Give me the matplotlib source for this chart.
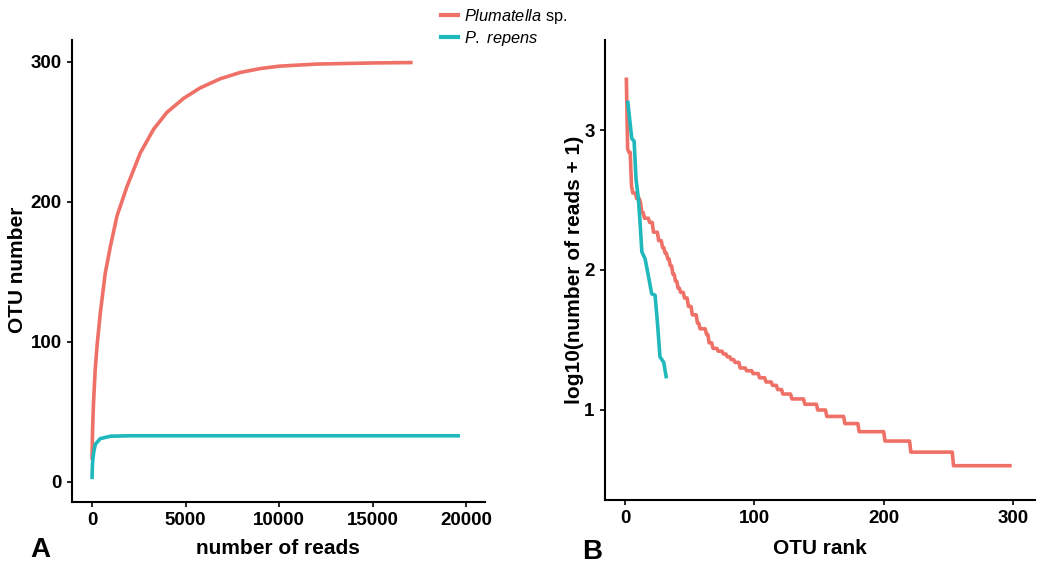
import matplotlib
matplotlib.use("Agg")
import matplotlib.pyplot as plt
from matplotlib.lines import Line2D

plt.rcParams["font.family"] = ["Liberation Sans", "DejaVu Sans"]
plt.rcParams["mathtext.fontset"] = "custom"
plt.rcParams["mathtext.it"] = "Liberation Sans:italic"
plt.rcParams["mathtext.rm"] = "Liberation Sans"

RED = "#EF7066"
TEAL = "#1FB8BC"

# Panel A: rarefaction curves (number of reads vs OTU number)
plum_reads = [0, 20, 50, 89, 170, 267, 445, 712, 979, 1335, 1869, 2581, 3293,
              4005, 4895, 5785, 6853, 7921, 9000, 10000, 12000, 15000, 17140]
plum_otus = [16, 32, 46, 59, 80, 97, 121, 149.5, 168, 190, 211, 235, 252,
             264, 274, 281.5, 288, 292.5, 295.3, 297, 298.5, 299.3, 299.6]
rep_reads = [0, 20, 50, 100, 180, 445, 1000, 2000, 19670]
rep_otus = [2, 11, 17, 22, 27, 31, 32.7, 33, 33]

# Panel B: rank abundance, levels of log10(reads + 1) and the rank each starts at
plum_rank = [1, 2, 3, 5, 6, 9, 12, 13, 15, 19, 22, 26, 29, 31, 33, 35, 37, 39,
             41, 43, 46, 49, 52, 56, 58, 63, 65, 68, 72, 76, 79, 82, 85, 89, 94,
             99, 104, 109, 114, 118, 122, 129, 139, 149, 156, 170, 181, 201, 221,
             254]
plum_log = [3.375, 2.865, 2.84, 2.60, 2.55, 2.51, 2.48, 2.41, 2.37, 2.34, 2.27,
            2.21, 2.16, 2.12, 2.08, 2.03, 1.97, 1.92, 1.87, 1.84, 1.80, 1.74,
            1.68, 1.62, 1.58, 1.54, 1.48, 1.44, 1.42, 1.40, 1.38, 1.36, 1.34,
            1.30, 1.28, 1.26, 1.23, 1.20, 1.176, 1.146, 1.114, 1.079, 1.041, 1.0,
            0.954, 0.903, 0.845, 0.778, 0.699, 0.602]
plum_last_rank = 299
rep_rank = [2, 5.2, 7, 8.5, 10.3, 11.6, 13, 15.5, 18, 20.6, 23.2, 25, 27, 29.9, 32]
rep_log = [3.21, 2.94, 2.92, 2.65, 2.51, 2.34, 2.13, 2.08, 1.96, 1.83, 1.82,
           1.63, 1.38, 1.34, 1.226]

W, H = 1037, 568
fig = plt.figure(figsize=(W / 100, H / 100), dpi=100)


def px_axes(left, right, top, bottom):
    return fig.add_axes([left / W, 1 - bottom / H, (right - left) / W, (bottom - top) / H])


def style(ax):
    for s in ("top", "right"):
        ax.spines[s].set_visible(False)
    for s in ("left", "bottom"):
        ax.spines[s].set_linewidth(1.5)
        ax.spines[s].set_color("black")
    ax.tick_params(direction="out", length=3.5, width=1.2, labelsize=13.5, colors="black", pad=4)
    for lab in ax.get_xticklabels() + ax.get_yticklabels():
        lab.set_fontweight("bold")


def level_line(starts, values, last):
    # each level holds until the rank before the next level, like geom_line over ranks
    xs, ys = [], []
    ends = [s - 1 for s in starts[1:]] + [last]
    for s, e, v in zip(starts, ends, values):
        xs.append(s)
        ys.append(v)
        if e > s:
            xs.append(e)
            ys.append(v)
    return xs, ys


axA = px_axes(72, 485, 40, 502)
axA.plot(plum_reads, plum_otus, color=RED, lw=2.6, solid_capstyle="butt")
axA.plot(rep_reads, rep_otus, color=TEAL, lw=2.6, solid_capstyle="butt")
axA.set_xlim(-1070, 21010)
axA.set_ylim(-14.3, 315.7)
axA.set_xticks([0, 5000, 10000, 15000, 20000])
axA.set_yticks([0, 100, 200, 300])
style(axA)

axB = px_axes(605, 1035, 40, 500)
bx, by = level_line(plum_rank, plum_log, plum_last_rank)
axB.plot(bx, by, color=RED, lw=2.6, solid_capstyle="butt")
axB.plot(rep_rank, rep_log, color=TEAL, lw=2.6, solid_capstyle="butt")
axB.set_xlim(-15.5, 317)
axB.set_ylim(0.357, 3.643)
axB.set_xticks([0, 100, 200, 300])
axB.set_yticks([1, 2, 3])
style(axB)

fig.text(278 / W, 1 - 548 / H, "number of reads", ha="center", va="center",
         fontsize=15, fontweight="bold")
fig.text(18 / W, 1 - 270 / H, "OTU number", ha="center", va="center",
         rotation=90, fontsize=15, fontweight="bold")
fig.text(820 / W, 1 - 548 / H, "OTU rank", ha="center", va="center",
         fontsize=15, fontweight="bold")
fig.text(575 / W, 1 - 270 / H, "log10(number of reads + 1)", ha="center", va="center",
         rotation=90, fontsize=15, fontweight="bold")
fig.text(40 / W, 1 - 550 / H, "A", ha="center", va="center", fontsize=20, fontweight="bold")
fig.text(592 / W, 1 - 552 / H, "B", ha="center", va="center", fontsize=20, fontweight="bold")

handles = [Line2D([], [], color=RED, lw=3), Line2D([], [], color=TEAL, lw=3)]
fig.legend(handles, [r"$\it{Plumatella}$ sp.", r"$\it{P.}$ $\it{repens}$"],
           loc="upper left", bbox_to_anchor=(434 / W, 1 - 0.5 / H), frameon=False,
           fontsize=11.8, handlelength=1.05, handletextpad=0.35, labelspacing=0.15,
           borderaxespad=0)

fig.savefig("out.png", dpi=100)
